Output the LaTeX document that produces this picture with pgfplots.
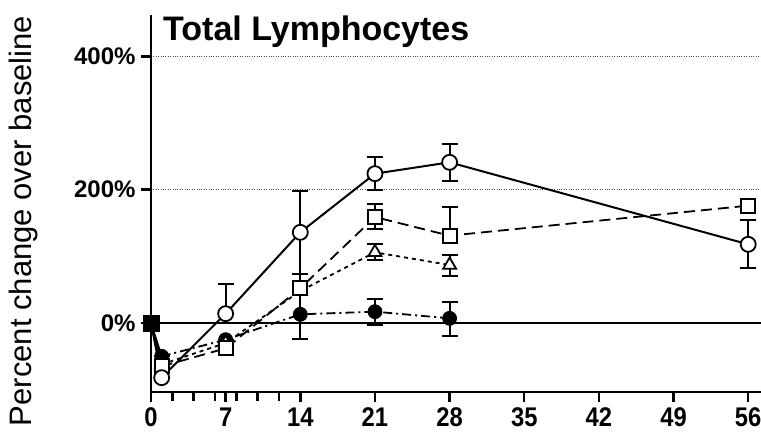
\documentclass[border=0pt]{standalone}
\usepackage{fontspec}
\setmainfont{Liberation Sans}
\newfontfamily\xtickfont{Liberation Sans Bold}[FakeStretch=0.88]
\usepackage{pgfplots}
\pgfplotsset{compat=1.18}
\usepackage{pgfplotstable}

\pgfplotstableread{
x y ep em
1 -82 0 0
7 14 45 0
14 136 62 62
21 224 25 25
28 241 28 28
56 118 36 36
}\opencirc
\pgfplotstableread{
x y ep em
1 -65 0 0
7 -38 0 0
14 52 21 0
21 159 20 18
28 131 43 0
56 176 0 0
}\opensq
\pgfplotstableread{
x y ep em
1 -62 0 0
7 -30 0 0
14 48 0 0
21 106 13 12
28 87 15 17
}\opentri
\pgfplotstableread{
x y ep em
1 -50 0 0
7 -25 0 0
14 13 37 37
21 17 19 20
28 7 25 27
}\filledcirc

\pgfplotsset{
  ebar/.style={error bars/.cd, y dir=both, y explicit,
    error bar style={line width=2pt, solid},
    error mark options={rotate=90, line width=2pt, mark size=8pt, solid, black}},
}

\begin{document}
\begin{tikzpicture}
\begin{axis}[
  at={(0,0)}, anchor=south west,
  scale only axis, width=610pt, height=377pt,
  xmin=0, xmax=57.2, ymin=-103.5, ymax=462,
  axis x line=bottom, axis y line=left,
  axis line style={-, line width=2.6pt},
  clip=false,
  xtick={0,7,14,21,28,35,42,49,56},
  minor xtick={2,4,6,8,10,12},
  ytick={0,200,400},
  yticklabels={0\%,200\%,400\%},
  /pgf/number format/assume math mode=true,
  tick align=outside,
  major tick length=10pt, minor tick length=9pt,
  every tick/.style={black, line width=2.4pt},
  xticklabel style={font=\xtickfont\fontsize{27}{27}\selectfont, yshift=-2pt},
  yticklabel style={font=\bfseries\fontsize{24}{24}\selectfont, xshift=-2pt},
  ymajorgrids, grid style={dotted, line width=1pt, black!70},
]
\addplot[black, line width=2.4pt] coordinates {(0,0) (57.2,0)};

% filled circles, dash-dot
\addplot[black, line width=1.8pt, dash pattern=on 9pt off 4pt on 2pt off 4pt,
  mark=*, mark size=6.5pt, mark options={solid, fill=black}, ebar]
  table[x=x, y=y, y error plus=ep, y error minus=em] {\filledcirc};

% triangles, dotted
\addplot[black, line width=1.8pt, dash pattern=on 4pt off 4pt,
  mark=triangle*, mark size=7.5pt, mark options={solid, fill=white, line width=1.8pt}, ebar]
  table[x=x, y=y, y error plus=ep, y error minus=em] {\opentri};

% squares, dashed
\addplot[black, line width=1.8pt, dash pattern=on 11pt off 6pt,
  mark=square*, mark size=7pt, mark options={solid, fill=white, line width=1.8pt}, ebar]
  table[x=x, y=y, y error plus=ep, y error minus=em] {\opensq};

% open circles, solid
\addplot[black, line width=2pt,
  mark=*, mark size=7.5pt, mark options={solid, fill=white, line width=1.8pt}, ebar]
  table[x=x, y=y, y error plus=ep, y error minus=em] {\opencirc};

% connecting segments from baseline
\addplot[black, line width=2pt, mark=none] coordinates {(0,0) (1,-82)};
\addplot[black, line width=1.8pt, dash pattern=on 11pt off 6pt, mark=none] coordinates {(0,0) (1,-65)};
\addplot[black, line width=1.8pt, dash pattern=on 4pt off 4pt, mark=none] coordinates {(0,0) (1,-62)};
\addplot[black, line width=1.8pt, mark=none] coordinates {(0,0) (1,-50)};

% baseline filled square
\addplot[only marks, mark=square*, mark size=8pt, black] coordinates {(0,0)};

\node[anchor=north west, inner sep=0pt, font=\bfseries\fontsize{34}{34}\selectfont]
  at (rel axis cs:0,1) [xshift=12pt, yshift=-1pt] {Total Lymphocytes};
\end{axis}
\node[rotate=90, font=\fontsize{31}{31}\selectfont] at (-128pt,171pt) {Percent change over baseline};
\pgfresetboundingbox
\path[use as bounding box] (-151pt,-45pt) rectangle (610pt,392pt);
\end{tikzpicture}
\end{document}
